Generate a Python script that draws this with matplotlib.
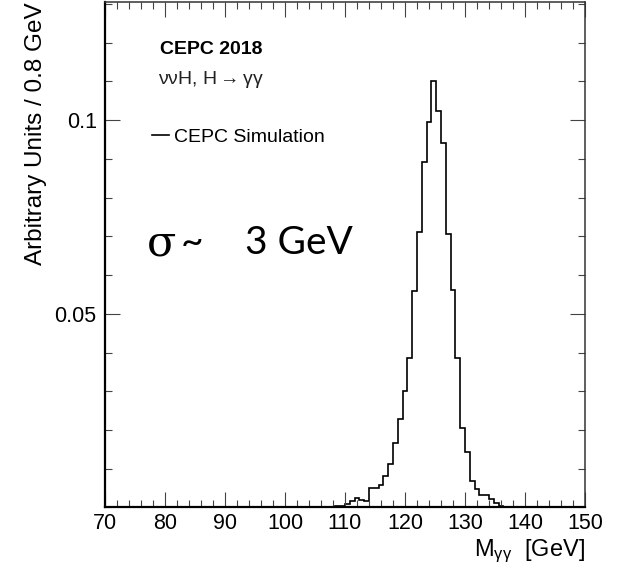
import numpy as np
import matplotlib
matplotlib.use("Agg")
import matplotlib.pyplot as plt
from matplotlib.ticker import MultipleLocator, FixedLocator

plt.rcParams['font.family'] = ['Liberation Sans', 'DejaVu Sans']
plt.rcParams['mathtext.fontset'] = 'custom'
plt.rcParams['mathtext.rm'] = 'Liberation Sans'
plt.rcParams['mathtext.it'] = 'Liberation Sans:italic'

# diphoton mass histogram, 0.8 GeV bins, first bin starts at 103.6 GeV
first_edge = 103.6
bin_width = 0.8
heights = [0.0, 0.0002, 0.0, 0.0, 0.0002, 0.0, 0.0003, 0.0003,
           0.0009, 0.0017, 0.0024, 0.0019, 0.0016, 0.0049, 0.0050, 0.0059,
           0.0081, 0.0112, 0.0167, 0.0229, 0.0300, 0.0385, 0.0560, 0.0712,
           0.0892, 0.0994, 0.1101, 0.1023, 0.0940, 0.0706, 0.0561, 0.0385,
           0.0204, 0.0142, 0.0068, 0.0048, 0.0032, 0.0032, 0.0022, 0.0012,
           0.0003, 0.0001, 0.0]

x_ticks = [70, 80, 90, 100, 110, 120, 130, 140, 150]
y_ticks = [0.05, 0.1]
y_tick_labels = ['0.05', '0.1']

edges = first_edge + bin_width * np.arange(len(heights) + 1)

fig = plt.figure(figsize=(6.34, 5.74), dpi=100)
ax = fig.add_axes([0.1656, 0.1159, 0.7571, 0.8806])

ax.stairs(heights, edges, color='black', linewidth=1.2, label='CEPC Simulation')

ax.set_xlim(70, 150)
ax.set_ylim(0, 0.1305)

ax.xaxis.set_major_locator(FixedLocator(x_ticks))
ax.xaxis.set_minor_locator(MultipleLocator(2))
ax.yaxis.set_major_locator(FixedLocator(y_ticks))
ax.set_yticklabels(y_tick_labels)
ax.yaxis.set_minor_locator(MultipleLocator(0.01))

ax.tick_params(which='both', direction='in', top=True, right=True,
               color='#444444', width=0.8, labelsize=15.5)
ax.tick_params(which='major', length=10.5)
ax.tick_params(which='minor', length=5.2)
ax.tick_params(axis='x', pad=4)
ax.tick_params(axis='y', pad=6)
for s in ax.spines.values():
    s.set_linewidth(1.1)
    s.set_color('#333333')
ax.spines['left'].set_linewidth(1.6)
ax.spines['left'].set_color('black')
ax.spines['bottom'].set_linewidth(1.6)
ax.spines['bottom'].set_color('black')

ax.set_ylabel('Arbitrary Units / 0.8 GeV', fontsize=17.5, loc='top')
ax.yaxis.set_label_coords(-0.12, 1.0)
ax.set_xlabel(r'M$_{\mathrm{γγ}}$  [GeV]', fontsize=17, loc='right')
ax.xaxis.set_label_coords(1.0, -0.06)

ax.text(0.1146, 0.907, 'CEPC 2018', transform=ax.transAxes, fontsize=14,
        fontweight='bold', va='center', ha='left')
ax.text(0.110, 0.846, r'ννH, H$\rightarrow$γγ', transform=ax.transAxes,
        fontsize=14, va='center', ha='left', color='#222222')

ax.legend(loc='center left', bbox_to_anchor=(0.098, 0.733), frameon=False,
          fontsize=14, handlelength=0.85, handletextpad=0.3, borderpad=0,
          borderaxespad=0)

ax.text(0.0875, 0.523, 'σ', transform=ax.transAxes, fontsize=31,
        family='DejaVu Serif', va='center', ha='left')
ax.text(0.158, 0.523, '~', transform=ax.transAxes, fontsize=28,
        family='Lato', va='center', ha='left')
ax.text(0.292, 0.523, '3 GeV', transform=ax.transAxes, fontsize=28,
        family='Lato', va='center', ha='left')

fig.savefig('out.png', dpi=100)
